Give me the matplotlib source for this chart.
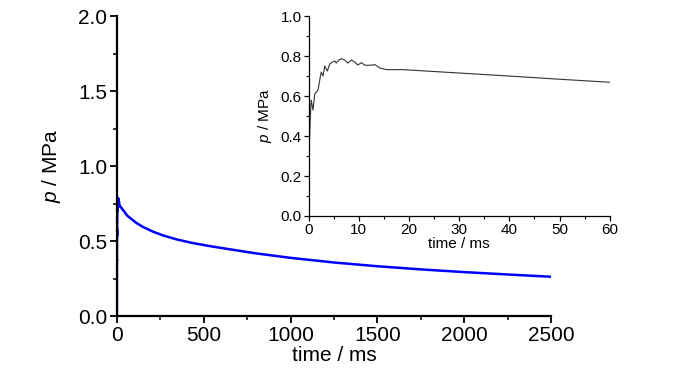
import matplotlib
matplotlib.use("Agg")
import matplotlib.pyplot as plt
from matplotlib.ticker import MultipleLocator, FormatStrFormatter
from matplotlib import font_manager

names = {f.name for f in font_manager.fontManager.ttflist}
fam = ["Liberation Sans Narrow"] if "Liberation Sans Narrow" in names else ["Liberation Sans"]
plt.rcParams["font.family"] = fam + ["DejaVu Sans"]
plt.rcParams["mathtext.fontset"] = "custom"
plt.rcParams["mathtext.it"] = fam[0] + ":italic"
plt.rcParams["mathtext.rm"] = fam[0]

# inset data (0-60 ms)
t_inset = [0.0, 0.15, 0.33, 0.5, 0.86, 1.2, 1.86, 2.2, 2.5, 2.86, 3.2, 3.7, 4.2,
           4.7, 5.2, 5.5, 6.0, 6.5, 7.2, 7.8, 8.5, 9.2, 9.8, 10.5, 11.2, 12.2,
           13.2, 14.2, 15.5, 18.8, 20.8, 30.1, 40.0, 50.0, 60.0]
p_inset = [0.38, 0.37, 0.50, 0.58, 0.53, 0.61, 0.63, 0.68, 0.72, 0.70, 0.75, 0.725, 0.76,
           0.77, 0.775, 0.765, 0.78, 0.787, 0.78, 0.765, 0.78, 0.77, 0.755, 0.767, 0.754, 0.754,
           0.757, 0.74, 0.732, 0.732, 0.729, 0.715, 0.70, 0.684, 0.669]

# long-time data
t_long = [75, 113, 152, 209, 267, 344, 440, 536, 650, 800, 900, 1000, 1250,
          1500, 1750, 2000, 2250, 2500]
p_long = [0.655, 0.62, 0.593, 0.562, 0.537, 0.511, 0.486, 0.466, 0.445, 0.418, 0.403,
          0.388, 0.357, 0.332, 0.311, 0.293, 0.277, 0.262]

t_main = [0.0] + t_inset + t_long
p_main = [0.0] + p_inset + p_long

fig = plt.figure(figsize=(7.0, 3.74), dpi=100)
ax = fig.add_axes([0.167, 0.155, 0.620, 0.802])
ax.plot(t_main, p_main, color="#0000ff", lw=1.8)
ax.set_xlim(0, 2500)
ax.set_ylim(0, 2.0)
ax.xaxis.set_major_locator(MultipleLocator(500))
ax.xaxis.set_minor_locator(MultipleLocator(250))
ax.yaxis.set_major_locator(MultipleLocator(0.5))
ax.yaxis.set_minor_locator(MultipleLocator(0.25))
ax.yaxis.set_major_formatter(FormatStrFormatter("%.1f"))
for s in ["top", "right"]:
    ax.spines[s].set_visible(False)
for s in ["left", "bottom"]:
    ax.spines[s].set_linewidth(1.6)
ax.tick_params(which="major", direction="out", length=5, width=1.3, labelsize=15, pad=2)
ax.tick_params(which="minor", direction="out", length=3, width=1.1)
ax.set_xlabel("time / ms", fontsize=15, labelpad=1)
ax.set_ylabel(r"$\it{p}$ / MPa", fontsize=15, labelpad=11)
ax.patch.set_alpha(0)

ins = fig.add_axes([0.441, 0.4225, 0.430, 0.5345])
ins.plot(t_inset, p_inset, color="#333333", lw=0.8)
ins.set_xlim(0, 60)
ins.set_ylim(0, 1.0)
ins.xaxis.set_major_locator(MultipleLocator(10))
ins.xaxis.set_minor_locator(MultipleLocator(5))
ins.yaxis.set_major_locator(MultipleLocator(0.2))
ins.yaxis.set_minor_locator(MultipleLocator(0.1))
ins.yaxis.set_major_formatter(FormatStrFormatter("%.1f"))
for s in ["top", "right"]:
    ins.spines[s].set_visible(False)
for s in ["left", "bottom"]:
    ins.spines[s].set_linewidth(0.9)
ins.tick_params(which="major", direction="out", length=3.5, width=0.9, labelsize=11, pad=1.5)
ins.tick_params(which="minor", direction="out", length=2, width=0.8)
ins.set_xlabel("time / ms", fontsize=11, labelpad=0)
ins.set_ylabel(r"$\it{p}$ / MPa", fontsize=11, labelpad=5)
ins.patch.set_alpha(0)

fig.savefig("out.png", dpi=100)
